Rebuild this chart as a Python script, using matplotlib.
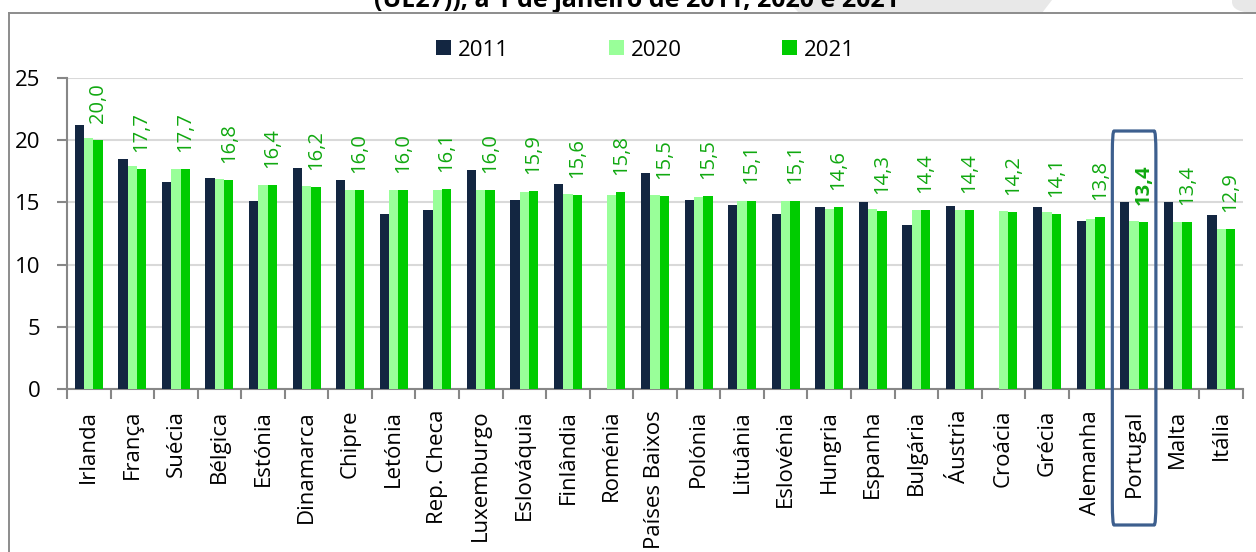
import numpy as np
import matplotlib
matplotlib.use("Agg")
import matplotlib.pyplot as plt
from matplotlib.patches import Rectangle, Polygon, FancyBboxPatch
from matplotlib.lines import Line2D
import matplotlib.transforms as mtransforms

plt.rcParams['font.family'] = ['Open Sans', 'DejaVu Sans']

countries = ["Irlanda", "França", "Suécia", "Bélgica", "Estónia", "Dinamarca", "Chipre",
             "Letónia", "Rep. Checa", "Luxemburgo", "Eslováquia", "Finlândia", "Roménia",
             "Países Baixos", "Polónia", "Lituânia", "Eslovénia", "Hungria", "Espanha",
             "Bulgária", "Áustria", "Croácia", "Grécia", "Alemanha", "Portugal", "Malta", "Itália"]
nan = np.nan
v2011 = [21.2, 18.5, 16.6, 17.0, 15.1, 17.8, 16.8, 14.1, 14.4, 17.6, 15.2, 16.5, nan,
         17.4, 15.2, 14.8, 14.1, 14.6, 15.0, 13.2, 14.7, nan, 14.6, 13.5, 15.0, 15.0, 14.0]
v2020 = [20.2, 17.9, 17.7, 16.9, 16.4, 16.3, 16.0, 16.0, 16.0, 16.0, 15.8, 15.7, 15.6,
         15.6, 15.4, 15.1, 15.1, 14.5, 14.5, 14.4, 14.4, 14.3, 14.2, 13.7, 13.5, 13.4, 12.9]
v2021 = [20.0, 17.7, 17.7, 16.8, 16.4, 16.2, 16.0, 16.0, 16.1, 16.0, 15.9, 15.6, 15.8,
         15.5, 15.5, 15.1, 15.1, 14.6, 14.3, 14.4, 14.4, 14.2, 14.1, 13.8, 13.4, 13.4, 12.9]
series_names = ["2011", "2020", "2021"]
highlight = "Portugal"
title_text = "(UE27)), a 1 de janeiro de 2011, 2020 e 2021"

c2011 = "#132641"
c2020 = "#99FF99"
c2021 = "#00CC00"
clabel = "#10A810"
cgrey = "#878787"
cbox = "#3D5F8E"

W, H = 1256, 552
fig = plt.figure(figsize=(W / 100, H / 100), dpi=100)
fig.patch.set_facecolor("white")

# background watermark shapes & frame
fig.add_artist(Polygon([[787 / W, 1], [1052 / W, 1], [1042 / W, 1 - 13 / H], [799 / W, 1 - 13 / H]],
                       closed=True, transform=fig.transFigure, facecolor="#E8E8E8",
                       edgecolor="none", zorder=0))
fig.add_artist(FancyBboxPatch((1232 / W, 1 - 13 / H), 40 / W, 30 / H,
                              boxstyle="round,pad=0,rounding_size=0.02",
                              transform=fig.transFigure, facecolor="#E8E8E8",
                              edgecolor="none", zorder=0))
fig.text(637 / W, 1 - 7 / H, title_text, ha="center", va="baseline",
         fontsize=18, fontweight="bold", color="black", zorder=1)
fig.add_artist(Line2D([9 / W, 9 / W], [0, 1 - 13 / H], transform=fig.transFigure,
                      color="#8C8C8C", lw=1.4, zorder=2))
fig.add_artist(Line2D([9 / W, 1], [1 - 13 / H, 1 - 13 / H], transform=fig.transFigure,
                      color="#8C8C8C", lw=1.4, zorder=2))
fig.add_artist(Rectangle((9 / W, 0), 1 - 9 / W, 1 - 13 / H, transform=fig.transFigure,
                         facecolor="white", edgecolor="none", zorder=-1))

ax = fig.add_axes([67 / W, (H - 389) / H, (1243 - 67) / W, (389 - 78) / H])
ax.set_facecolor("none")

x = np.arange(len(countries))
bw = 0.214
b1 = ax.bar(x - bw, v2011, bw, color=c2011, label=series_names[0], zorder=3)
b2 = ax.bar(x, v2020, bw, color=c2020, label=series_names[1], zorder=3)
b3 = ax.bar(x + bw, v2021, bw, color=c2021, label=series_names[2], zorder=3)

for i, v in enumerate(v2021):
    ax.annotate(f"{v:.1f}".replace(".", ","), (x[i] + bw, v), xytext=(0, 17),
                textcoords="offset pixels", rotation=90, ha="center", va="bottom",
                fontsize=14.5, color=clabel,
                fontweight="bold" if countries[i] == highlight else "normal", zorder=4)

ax.set_xlim(-0.5, len(countries) - 0.5)
ax.set_ylim(0, 25)
ax.set_yticks([0, 5, 10, 15, 20, 25])
ax.yaxis.grid(True, color="#D9D9D9", lw=1.5, zorder=0)
ax.set_axisbelow(True)

ax.set_xticks(np.arange(-0.5, len(countries)), labels=[])
ax.set_xticks(x, labels=countries, minor=True)
ax.tick_params(axis="x", which="major", length=7, width=1.5, color=cgrey)
ax.tick_params(axis="x", which="minor", length=0, pad=15, labelsize=16, rotation=90)
ax.tick_params(axis="y", length=7, width=1.5, color=cgrey, pad=12, labelsize=16)
for s in ["top", "right"]:
    ax.spines[s].set_visible(False)
for s in ["left", "bottom"]:
    ax.spines[s].set_color(cgrey)
    ax.spines[s].set_linewidth(1.5)

# highlight box around Portugal
idx = countries.index(highlight)
trans = mtransforms.blended_transform_factory(ax.transData, fig.transFigure)
box = FancyBboxPatch((idx - 0.5, (H - 525) / H), 1.0, (525 - 131) / H,
                     boxstyle="round,pad=0,rounding_size=0.04", transform=trans,
                     facecolor="none", edgecolor=cbox, lw=2.3, clip_on=False, zorder=5)
fig.add_artist(box)

fig.legend(handles=[b1, b2, b3], labels=series_names, loc="center",
           bbox_to_anchor=(645.5 / W, 1 - 50 / H), ncol=3, frameon=False,
           fontsize=16, handlelength=0.68, handleheight=0.68, handletextpad=0.32,
           columnspacing=4.5)

fig.savefig("out.png", dpi=100, facecolor="white")
